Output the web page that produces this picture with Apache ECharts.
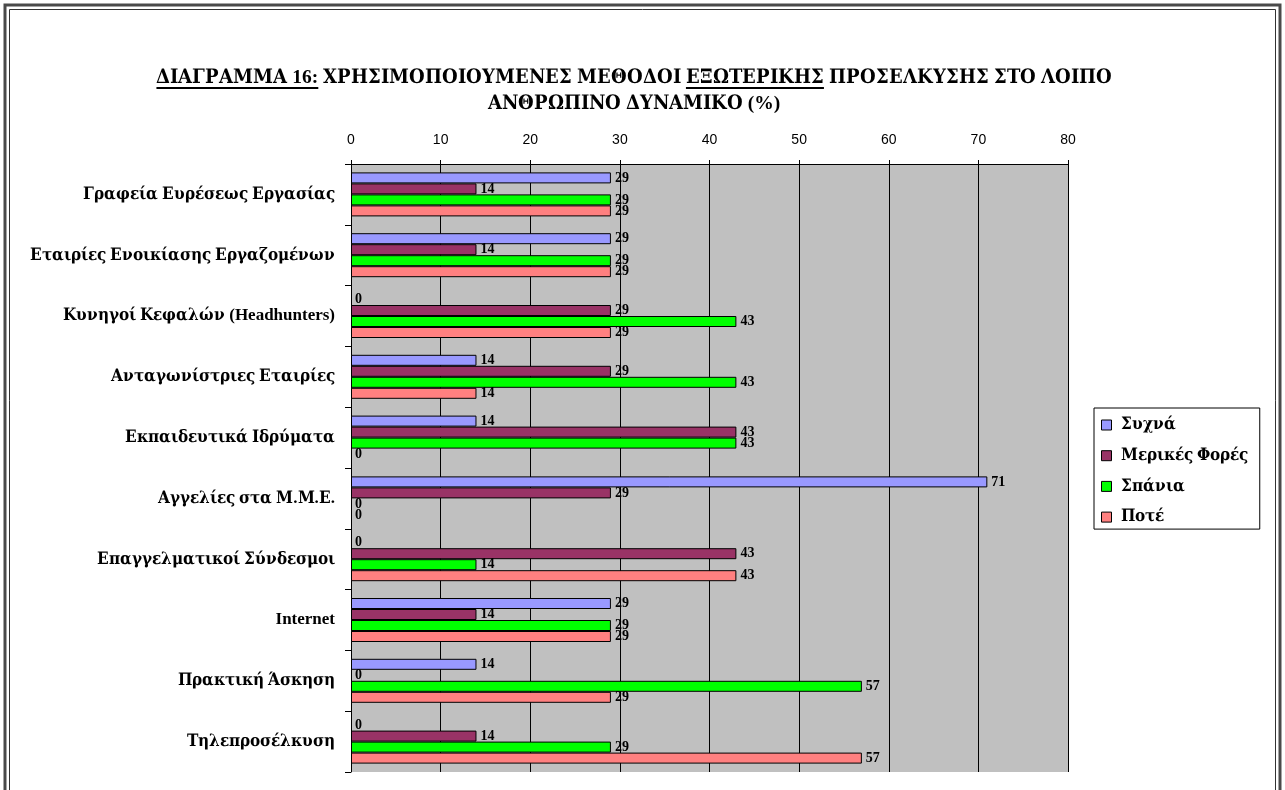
<!DOCTYPE html>
<html>
<head>
<meta charset="utf-8">
<script src="https://cdn.jsdelivr.net/npm/echarts@6/dist/echarts.min.js"></script>
<style>
  /* Greek glyphs from a wider serif face, Latin and digits from Liberation Serif */
  @font-face {
    font-family: "GreekSerif";
    src: local("DejaVu Serif Condensed Bold"), local("DejaVuSerifCondensed-Bold");
    font-weight: bold;
    unicode-range: U+0370-03FF, U+1F00-1FFF;
  }
  html, body { margin: 0; padding: 0; background: #ffffff; }
  #chart { width: 1285px; height: 790px; }
</style>
</head>
<body>
<div id="chart"></div>
<script>
// Methods used for external recruitment of the remaining staff (%)
const categories = [
  'Γραφεία Ευρέσεως Εργασίας',
  'Εταιρίες Ενοικίασης Εργαζομένων',
  'Κυνηγοί Κεφαλών (Headhunters)',
  'Ανταγωνίστριες Εταιρίες',
  'Εκπαιδευτικά Ιδρύματα',
  'Αγγελίες στα Μ.Μ.Ε.',
  'Επαγγελματικοί Σύνδεσμοι',
  'Internet',
  'Πρακτική Άσκηση',
  'Τηλεπροσέλκυση'
];
const seriesNames = ['Συχνά', 'Μερικές Φορές', 'Σπάνια', 'Ποτέ'];
const often     = [29, 29, 0, 14, 14, 71, 0, 29, 14, 0];
const sometimes = [14, 14, 29, 29, 43, 29, 43, 14, 0, 14];
const rarely    = [29, 29, 43, 43, 43, 0, 14, 29, 57, 29];
const never     = [29, 29, 29, 14, 0, 0, 43, 29, 29, 57];
const xTicks = { min: 0, max: 80, interval: 10 };

const colors = ['#9999ff', '#993366', '#00ff00', '#ff8080'];
const serif = '"GreekSerif", "Liberation Serif", "Times New Roman", serif';
const sans = '"Liberation Sans", Arial, sans-serif';

function draw() {
  const chart = echarts.init(document.getElementById('chart'));

  // Title: two centred lines, some segments underlined
  const titleFont = 'bold 19.5px ' + serif;
  const line1 = [
    { t: 'ΔΙΑΓΡΑΜΜΑ 16:', u: true },
    { t: ' ΧΡΗΣΙΜΟΠΟΙΟΥΜΕΝΕΣ ΜΕΘΟΔΟΙ ', u: false },
    { t: 'ΕΞΩΤΕΡΙΚΗΣ', u: true },
    { t: ' ΠΡΟΣΕΛΚΥΣΗΣ ΣΤΟ ΛΟΙΠΟ', u: false }
  ];
  const line2 = 'ΑΝΘΡΩΠΙΝΟ ΔΥΝΑΜΙΚΟ (%)';
  const measure = document.createElement('canvas').getContext('2d');
  measure.font = titleFont;
  const titleCx = 634;
  const graphics = [];
  const total = line1.reduce((s, p) => s + measure.measureText(p.t).width, 0);
  let x = titleCx - total / 2;
  line1.forEach(p => {
    const w = measure.measureText(p.t).width;
    graphics.push({
      type: 'text', left: x, top: 68,
      style: { text: p.t, font: titleFont, fill: '#000' }
    });
    if (p.u) {
      graphics.push({
        type: 'line',
        shape: { x1: x, y1: 88, x2: x + w, y2: 88 },
        style: { stroke: '#000', lineWidth: 2 }
      });
    }
    x += w;
  });
  graphics.push({
    type: 'text', left: titleCx - measure.measureText(line2).width / 2, top: 94,
    style: { text: line2, font: titleFont, fill: '#000' }
  });

  // Double frame around the page
  graphics.push({
    type: 'rect', shape: { x: 5, y: 5, width: 1275, height: 900 },
    style: { fill: 'none', stroke: '#4a4a4a', lineWidth: 3 }, silent: true
  });
  graphics.push({
    type: 'rect', shape: { x: 9.5, y: 9.5, width: 1266, height: 900 },
    style: { fill: 'none', stroke: '#333', lineWidth: 1 }, silent: true
  });

  const dataSets = [often, sometimes, rarely, never];
  const series = dataSets.map((d, i) => ({
    name: seriesNames[i],
    type: 'bar',
    // zero-length bars keep their label but draw no outline
    data: d.map(v => v === 0 ? { value: v, itemStyle: { borderWidth: 0 } } : v),
    barWidth: 11,
    barGap: '0%',
    itemStyle: { color: colors[i], borderColor: '#000', borderWidth: 1 },
    label: {
      show: true, position: 'right', distance: 4,
      fontFamily: serif, fontWeight: 'bold', fontSize: 14, color: '#000'
    }
  }));

  chart.setOption({
    backgroundColor: '#ffffff',
    animation: false,
    graphic: graphics,
    grid: { left: 351, top: 164, width: 717, height: 608, show: true, backgroundColor: '#c0c0c0', borderWidth: 0 },
    xAxis: {
      type: 'value', position: 'top',
      min: xTicks.min, max: xTicks.max, interval: xTicks.interval,
      axisLine: { show: true, lineStyle: { color: '#000', width: 1 } },
      axisTick: { show: true, length: 4, lineStyle: { color: '#000' } },
      axisLabel: { fontFamily: sans, fontSize: 14, color: '#000', margin: 17 },
      splitLine: { show: true, lineStyle: { color: '#000', width: 1 } }
    },
    yAxis: {
      type: 'category', data: categories, inverse: true,
      axisLine: { show: true, lineStyle: { color: '#000', width: 1 } },
      axisTick: { show: true, length: 6, lineStyle: { color: '#000' } },
      axisLabel: { fontFamily: serif, fontWeight: 'bold', fontSize: 17, color: '#000', margin: 16 }
    },
    legend: {
      orient: 'vertical', left: 1094, top: 408,
      backgroundColor: '#fff', borderColor: '#000', borderWidth: 1,
      padding: [8, 12, 3, 7],
      itemWidth: 10, itemHeight: 10, itemGap: 12.7,
      icon: 'rect',
      itemStyle: { borderColor: '#000', borderWidth: 1 },
      textStyle: { fontFamily: serif, fontWeight: 'bold', fontSize: 17, lineHeight: 18, color: '#000', padding: [0, 0, 0, 4] },
      data: seriesNames
    },
    series: series
  });
}

Promise.all([
  document.fonts.load('bold 17px "GreekSerif"', 'Γα'),
  document.fonts.load('bold 17px "Liberation Serif"', 'A1'),
  document.fonts.load('14px "Liberation Sans"', '10')
]).then(draw, draw);
</script>
</body>
</html>
